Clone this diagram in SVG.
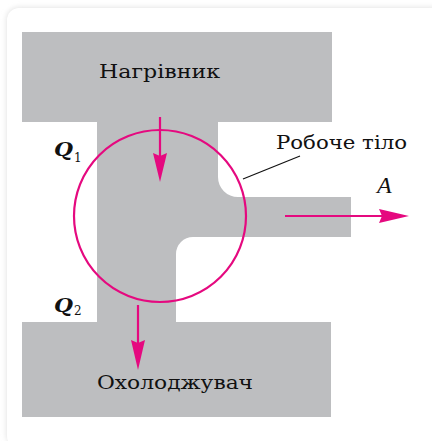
<svg xmlns="http://www.w3.org/2000/svg" width="432" height="441" viewBox="0 0 432 441">
  <defs>
    <style>
      .lbl { font-family: "DejaVu Serif", "Liberation Serif", serif; font-size: 19px; fill: #111; }
      .q { font-family: "DejaVu Serif", "Liberation Serif", serif; font-style: italic; font-weight: bold; font-size: 18px; fill: #111; }
      .sub { font-family: "DejaVu Serif", "Liberation Serif", serif; font-size: 12px; fill: #111; }
      .sym { font-family: "Liberation Serif", serif; font-style: italic; fill: #111; }
      .mag { stroke: #e5097f; fill: none; stroke-width: 2.2; }
      .head { fill: #e5097f; }
    </style>
    <filter id="sh" x="-5%" y="-5%" width="110%" height="110%">
      <feGaussianBlur stdDeviation="2.5"/>
    </filter>
  </defs>
  <rect x="0" y="0" width="432" height="441" fill="#ffffff"/>
  <rect x="6" y="7" width="440" height="440" rx="13" fill="#e6e6e6" filter="url(#sh)"/>
  <rect x="7" y="8" width="440" height="440" rx="12" fill="#ffffff"/>

  <g id="body">
    <path d="M22,32 H332 V122 H218 V177 A20,20 0 0 0 238,197 H351 V237 H193 A17,17 0 0 0 176,254 V322 H331 V417 H22 V322 H97 V122 H22 Z" fill="#bdbec0"/>
  </g>

  <g id="heater">
    <text class="lbl" x="159.5" y="78" text-anchor="middle" textLength="121" lengthAdjust="spacingAndGlyphs">Нагрівник</text>
  </g>
  <g id="cooler">
    <text class="lbl" x="97" y="389" textLength="156" lengthAdjust="spacingAndGlyphs">Охолоджувач</text>
  </g>
  <g id="working-body">
    <circle cx="160" cy="216" r="86" class="mag"/>
    <text class="lbl" x="276" y="149" textLength="131" lengthAdjust="spacingAndGlyphs">Робоче тіло</text>
  </g>
  <g id="q1">
    <text class="q" x="54" y="156" textLength="19" lengthAdjust="spacingAndGlyphs">Q</text>
    <text class="sub" x="74" y="162">1</text>
  </g>
  <g id="q2">
    <text class="q" x="54" y="312" textLength="19" lengthAdjust="spacingAndGlyphs">Q</text>
    <text class="sub" x="74" y="315">2</text>
  </g>
  <g id="work">
    <text class="sym" x="377" y="193" font-size="24">A</text>
  </g>

  <g id="connectors">
    <line x1="243" y1="179" x2="300" y2="156" stroke="#111" stroke-width="1.2"/>
    <line x1="160" y1="117" x2="160" y2="160" class="mag"/>
    <path class="head" d="M160,182 L153,153 L160,156 L167,153 Z"/>
    <line x1="138" y1="305" x2="138" y2="345" class="mag"/>
    <path class="head" d="M138,370 L131,340 L138,343 L145,340 Z"/>
    <line x1="285" y1="216" x2="385" y2="216" class="mag"/>
    <path class="head" d="M409,216 L379,209 L382,216 L379,223 Z"/>
  </g>
</svg>
